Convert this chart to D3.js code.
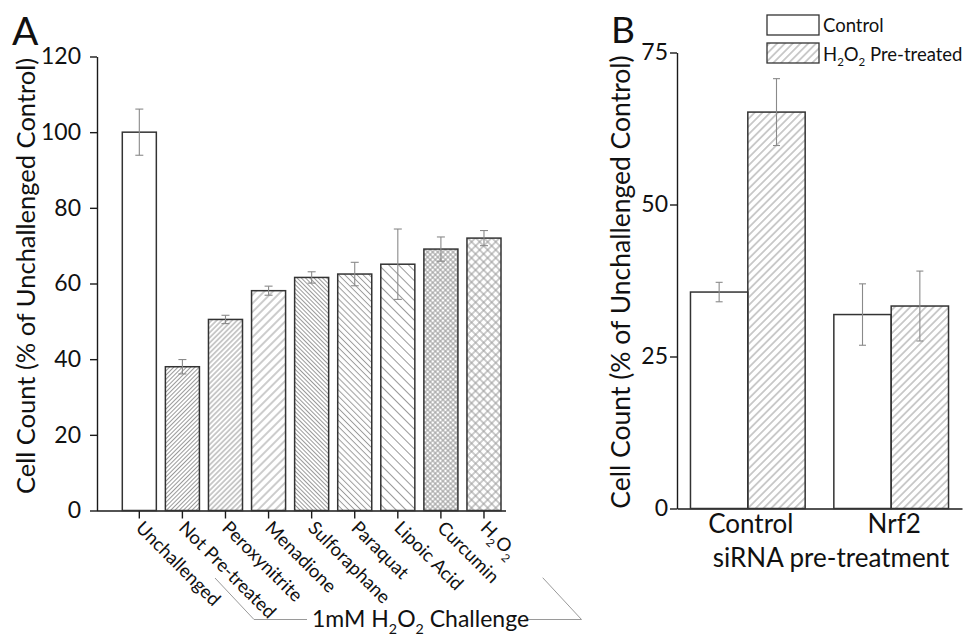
<!DOCTYPE html>
<html>
<head>
<meta charset="utf-8">
<style>
body { margin: 0; background: #fff; }
text { font-family: Lato, "Open Sans", sans-serif; fill: #111; }
.axis path, .axis line { stroke: #1a1a1a; stroke-width: 1.4; }
</style>
</head>
<body>
<script src="https://d3js.org/d3.v7.min.js"></script>
<script>

// panel A
var catsA = ["Unchallenged", "Not Pre-treated", "Peroxynitrite", "Menadione", "Sulforaphane",
             "Paraquat", "Lipoic Acid", "Curcumin", "H2O2"];
var valsA = [100, 38, 50.5, 58.1, 61.6, 62.5, 65.1, 69.1, 72];
var errA  = [6.1, 1.9, 1.1, 1.2, 1.5, 3.1, 9.3, 3.2, 2.0];
var ticksA = [0, 20, 40, 60, 80, 100, 120];

// panel B
var groupsB = ["Control", "Nrf2"];
var seriesB = ["Control", "H2O2 Pre-treated"];
var valsBControl = [35.6, 31.9];
var valsBH2O2    = [65.2, 33.3];
var errBControl  = [1.6, 5.05];
var errBH2O2     = [5.5, 5.75];
var ticksB = [0, 25, 50, 75];

var width = 969, height = 636;

var svg = d3.select("body").append("svg")
    .attr("width", width)
    .attr("height", height);

var defs = svg.append("defs");

// single hatch: rotate 45 gives "/", -45 gives "\"
function hatch(id, s, rot, cross) {
  var p = defs.append("pattern")
      .attr("id", id)
      .attr("patternUnits", "userSpaceOnUse")
      .attr("width", s)
      .attr("height", s)
      .attr("patternTransform", "rotate(" + rot + ")");
  p.append("line")
      .attr("x1", s / 2).attr("x2", s / 2)
      .attr("y1", 0).attr("y2", s)
      .attr("stroke", "#9a9a9a").attr("stroke-width", 1);
  if (cross) {
    p.append("line")
        .attr("x1", 0).attr("x2", s)
        .attr("y1", s / 2).attr("y2", s / 2)
        .attr("stroke", "#9a9a9a").attr("stroke-width", 1);
  }
}

hatch("p1", 3.0, 45);
hatch("p2", 3.6, 45);
hatch("p3", 6.0, 45);
hatch("p4", 3.0, -45);
hatch("p5", 4.3, -45);
hatch("p6", 7.0, -45);
hatch("p7", 3.6, 45, true);
hatch("p8", 5.7, 45, true);
hatch("pb", 5.5, 45);

var fillA = ["#fff", "url(#p1)", "url(#p2)", "url(#p3)", "url(#p4)",
             "url(#p5)", "url(#p6)", "url(#p7)", "url(#p8)"];

// write text with H2O2 subscripts
function chem(t, str, size) {
  var parts = str.split(/(H2O2)/);
  var sub = size * 0.62, shift = size * 0.32;
  var back = 0;
  parts.forEach(function(s) {
    if (s === "H2O2") {
      t.append("tspan").attr("dy", back || null).text("H");
      t.append("tspan").attr("font-size", sub).attr("dy", shift).text("2");
      t.append("tspan").attr("dy", -shift).text("O");
      t.append("tspan").attr("font-size", sub).attr("dy", shift).text("2");
      back = -shift;
    } else if (s.length) {
      t.append("tspan").attr("dy", back || null).text(s);
      back = 0;
    }
  });
}

// ---------- Panel A ----------
var axA = 97;
var yA = d3.scaleLinear().domain([0, 120]).range([510.5, 56.5]);
var xA = d3.scaleBand().domain(catsA).range([122.3, 501]).paddingInner(0.21);

svg.append("g")
    .attr("class", "axis")
    .attr("transform", "translate(" + axA + ",0)")
    .call(d3.axisLeft(yA).tickValues(ticksA).tickSize(7).tickPadding(9).tickSizeOuter(0))
    .call(g => g.selectAll("text").attr("font-size", 23).style("font-family", "Lato"));

svg.append("g")
    .attr("class", "axis")
    .attr("transform", "translate(0," + yA(0) + ")")
    .call(d3.axisBottom(xA).tickSize(8).tickFormat("").tickSizeOuter(0))
    .call(g => g.select(".domain").attr("d", "M" + axA + ",0.5H506"));

svg.selectAll(".barA")
    .data(catsA)
  .enter().append("rect")
    .attr("class", "barA")
    .attr("x", d => xA(d))
    .attr("width", xA.bandwidth())
    .attr("y", (d, i) => yA(valsA[i]))
    .attr("height", (d, i) => yA(0) - yA(valsA[i]))
    .attr("fill", (d, i) => fillA[i])
    .attr("stroke", "#333")
    .attr("stroke-width", 1.5);

function errBar(g, cx, v, cap) {
  g.append("line").attr("x1", cx).attr("x2", cx).attr("y1", v[0]).attr("y2", v[1]);
  g.append("line").attr("x1", cx - cap).attr("x2", cx + cap).attr("y1", v[0]).attr("y2", v[0]);
  g.append("line").attr("x1", cx - cap).attr("x2", cx + cap).attr("y1", v[1]).attr("y2", v[1]);
}

var eA = svg.append("g").attr("stroke", "#8a8a8a").attr("stroke-width", 1.1);
catsA.forEach(function(c, i) {
  var cx = xA(c) + xA.bandwidth() / 2;
  errBar(eA, cx, [yA(valsA[i] + errA[i]), yA(valsA[i] - errA[i])], 4);
});

// rotated category labels
catsA.forEach(function(c, i) {
  var cx = xA(c) + xA.bandwidth() / 2;
  var t = svg.append("text")
      .attr("font-size", 18.5)
      .attr("transform", "translate(" + cx + "," + (yA(0) + 14) + ") rotate(45)")
      .attr("y", "0.35em");
  chem(t, c, 18.5);
});

// bracket
var br = svg.append("g").attr("stroke", "#9a9a9a").attr("stroke-width", 1).attr("fill", "none");
br.append("path").attr("d", "M215,578L254,619.5H307");
br.append("path").attr("d", "M524,619.5H581.5L542.7,577.7");
var bt = svg.append("text").attr("x", 312).attr("y", 627).attr("font-size", 23);
chem(bt, "1mM H2O2 Challenge", 23);

svg.append("text")
    .attr("transform", "translate(35,276) rotate(-90)")
    .attr("text-anchor", "middle")
    .attr("font-size", 25.5)
    .text("Cell Count (% of Unchallenged Control)");

svg.append("text").attr("x", 12).attr("y", 45).attr("font-size", 39).text("A");

// ---------- Panel B ----------
var axB = 677;
var yB = d3.scaleLinear().domain([0, 75]).range([508.5, 52.5]);
var xB0 = d3.scaleBand().domain(groupsB).range([axB, 962]).paddingInner(0.2).paddingOuter(0.094);
var xB1 = d3.scaleBand().domain(seriesB).range([0, xB0.bandwidth()]);

svg.append("g")
    .attr("class", "axis")
    .attr("transform", "translate(" + axB + ",0)")
    .call(d3.axisLeft(yB).tickValues(ticksB).tickSize(7).tickPadding(2).tickSizeOuter(0))
    .call(g => g.selectAll("text").attr("font-size", 23).style("font-family", "Lato"));

svg.append("g")
    .attr("class", "axis")
    .attr("transform", "translate(0," + yB(0) + ")")
    .call(d3.axisBottom(xB0).tickSize(0).tickFormat("").tickSizeOuter(0));

var rowsB = [];
groupsB.forEach(function(g, i) {
  rowsB.push({ g: g, s: seriesB[0], v: valsBControl[i], e: errBControl[i], fill: "#fff" });
  rowsB.push({ g: g, s: seriesB[1], v: valsBH2O2[i], e: errBH2O2[i], fill: "url(#pb)" });
});

svg.selectAll(".barB")
    .data(rowsB)
  .enter().append("rect")
    .attr("class", "barB")
    .attr("x", d => xB0(d.g) + xB1(d.s))
    .attr("width", xB1.bandwidth())
    .attr("y", d => yB(d.v))
    .attr("height", d => yB(0) - yB(d.v))
    .attr("fill", d => d.fill)
    .attr("stroke", "#333")
    .attr("stroke-width", 1.5);

var eB = svg.append("g").attr("stroke", "#8a8a8a").attr("stroke-width", 1.1);
rowsB.forEach(function(d) {
  var cx = xB0(d.g) + xB1(d.s) + xB1.bandwidth() / 2;
  errBar(eB, cx, [yB(d.v + d.e), yB(d.v - d.e)], 3.5);
});

svg.selectAll(".grpB")
    .data(groupsB)
  .enter().append("text")
    .attr("class", "grpB")
    .attr("x", d => xB0(d) + xB0.bandwidth() / 2 + 3)
    .attr("y", 533)
    .attr("text-anchor", "middle")
    .attr("font-size", 26)
    .text(d => d);

svg.append("text")
    .attr("x", 831).attr("y", 567)
    .attr("text-anchor", "middle")
    .attr("font-size", 26)
    .text("siRNA pre-treatment");

svg.append("text")
    .attr("transform", "translate(630,282) rotate(-90)")
    .attr("text-anchor", "middle")
    .attr("font-size", 26.5)
    .text("Cell Count (% of Unchallenged Control)");

svg.append("text").attr("x", 611).attr("y", 43).attr("font-size", 37).text("B");

// legend
var lg = svg.append("g");
seriesB.forEach(function(s, i) {
  lg.append("rect")
      .attr("x", 767).attr("y", 15 + i * 28)
      .attr("width", 52).attr("height", 20)
      .attr("fill", i ? "url(#pb)" : "#fff")
      .attr("stroke", "#333").attr("stroke-width", 1.3);
  var t = lg.append("text").attr("x", 823).attr("y", 32 + i * 28.5).attr("font-size", 18.5);
  chem(t, s, 18.5);
});

</script>
</body>
</html>
